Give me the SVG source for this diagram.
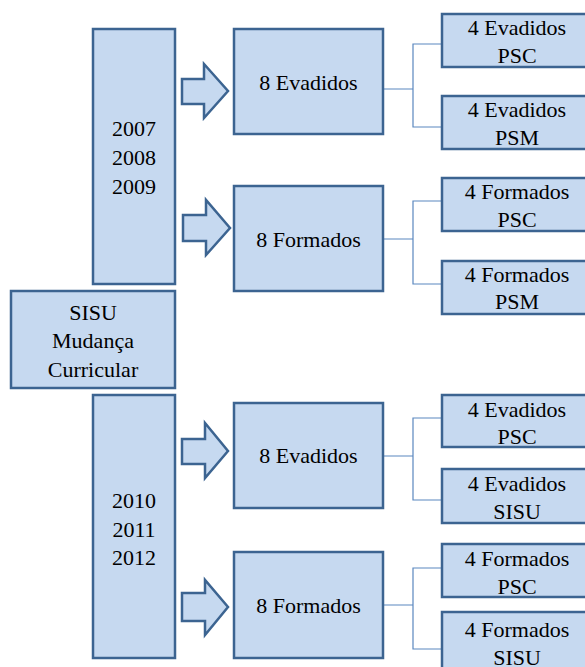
<svg xmlns="http://www.w3.org/2000/svg" width="585" height="667" viewBox="0 0 585 667">
<style>
.b{fill:#c6d9f0;stroke:#3c6491;stroke-width:2.5}
.c{fill:none;stroke:#5a87bf;stroke-width:1.2}
text{font-family:"Liberation Serif","Times New Roman",serif;font-size:22px;fill:#000;text-anchor:middle}
</style>
<rect width="585" height="667" fill="#fff"/>
<g id="connectors">
<path class="b" d="M182,79 H204 V64 L228,91 L204,118 V104 H182 Z"/>
<path class="b" d="M183,215 H206 V200 L230,228 L206,255 V241 H183 Z"/>
<path class="b" d="M182,439 H205 V423 L228,451 L205,478 V464 H182 Z"/>
<path class="b" d="M182,593 H205 V580 L228,607 L205,635 V621 H182 Z"/>
<path class="c" d="M383,89 H413 M442,44 H413 V127 H442"/>
<path class="c" d="M383,239 H413 M442,201 H413 V284 H442"/>
<path class="c" d="M383,456 H413 M442,418 H413 V500 H442"/>
<path class="c" d="M383,605 H413 M442,568 H413 V649 H442"/>
</g>
<g id="years1"><rect class="b" x="93" y="29" width="82" height="255"/><text x="134" y="136">2007</text><text x="134" y="165">2008</text><text x="134" y="194">2009</text></g>
<g id="sisu"><rect class="b" x="11" y="291" width="164" height="97"/><text x="93" y="320">SISU</text><text x="93" y="348">Mudança</text><text x="93" y="377">Curricular</text></g>
<g id="years2"><rect class="b" x="93" y="395" width="82" height="263"/><text x="134" y="508">2010</text><text x="134" y="537">2011</text><text x="134" y="565">2012</text></g>
<g id="ev1"><rect class="b" x="234" y="29" width="149" height="105"/><text x="308.5" y="90">8 Evadidos</text></g>
<g id="fo1"><rect class="b" x="234" y="186" width="149" height="105"/><text x="308.5" y="247">8 Formados</text></g>
<g id="ev2"><rect class="b" x="234" y="403" width="149" height="105"/><text x="308.5" y="463">8 Evadidos</text></g>
<g id="fo2"><rect class="b" x="234" y="552" width="149" height="106"/><text x="308.5" y="613">8 Formados</text></g>
<g id="l1"><rect class="b" x="442" y="14" width="151" height="53"/><text x="517" y="35">4 Evadidos</text><text x="517" y="63">PSC</text></g>
<g id="l2"><rect class="b" x="442" y="96" width="151" height="53"/><text x="517" y="117">4 Evadidos</text><text x="517" y="145">PSM</text></g>
<g id="l3"><rect class="b" x="442" y="178" width="151" height="53"/><text x="517" y="199">4 Formados</text><text x="517" y="227">PSC</text></g>
<g id="l4"><rect class="b" x="442" y="261" width="151" height="53"/><text x="517" y="282">4 Formados</text><text x="517" y="309">PSM</text></g>
<g id="l5"><rect class="b" x="442" y="395" width="151" height="52"/><text x="517" y="417">4 Evadidos</text><text x="517" y="444">PSC</text></g>
<g id="l6"><rect class="b" x="442" y="469" width="151" height="54"/><text x="517" y="491">4 Evadidos</text><text x="517" y="519">SISU</text></g>
<g id="l7"><rect class="b" x="442" y="544" width="151" height="53"/><text x="517" y="566">4 Formados</text><text x="517" y="594">PSC</text></g>
<g id="l8"><rect class="b" x="442" y="612" width="151" height="60"/><text x="517" y="637">4 Formados</text><text x="517" y="665">SISU</text></g>
</svg>
